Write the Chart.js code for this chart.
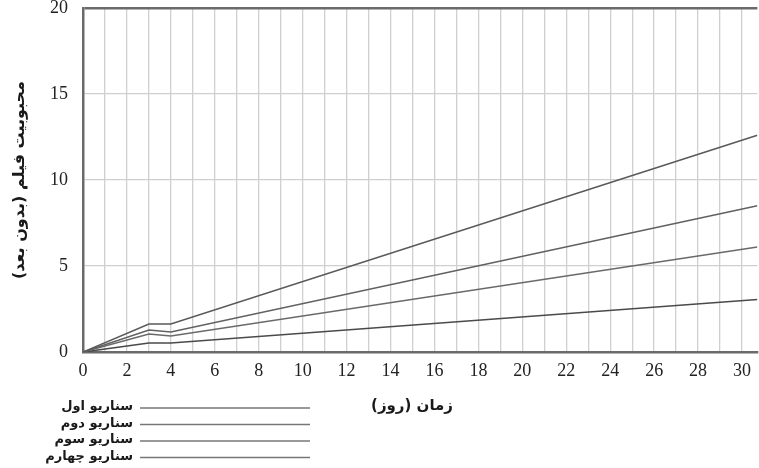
<!DOCTYPE html>
<html>
<head>
<meta charset="utf-8">
<script src="https://cdn.jsdelivr.net/npm/chart.js@4"></script>
<style>
  html, body { margin: 0; padding: 0; background: #fff; }
  #wrap { width: 759px; height: 468px; position: relative; }
</style>
</head>
<body>
<div id="wrap"><canvas id="chart"></canvas></div>
<script>
  const days = [0, 3, 4, 30.7];
  const scenario1 = [0, 1.63, 1.63, 12.6];
  const scenario2 = [0, 1.28, 1.16, 8.5];
  const scenario3 = [0, 1.05, 0.93, 6.1];
  const scenario4 = [0, 0.52, 0.52, 3.05];
  const seriesLabels = ["سناریو اول", "سناریو دوم", "سناریو سوم", "سناریو چهارم"];
  const xTitle = "زمان (روز)";
  const yTitle = "محبوبیت فیلم (بدون بعد)";
  const xMax = 30.7;
  const yTicks = [0, 5, 10, 15, 20];

  const serif = "'Liberation Serif', 'Times New Roman', serif";
  const arabic = "'DejaVu Sans', sans-serif";
  const gridColor = "#cfcfcf";
  const axisColor = "#6a6a6a";
  const lineColors = ["#5a5a5a", "#616161", "#6a6a6a", "#4a4a4a"];

  const toPoints = (ys) => ys.map((y, i) => ({ x: days[i], y }));

  // legend under the plot (bottom left) and the x title, placed like the original
  const extras = {
    id: "extras",
    afterDraw(chart) {
      const ctx = chart.ctx;
      ctx.save();
      ctx.fillStyle = "#1a1a1a";
      ctx.font = "bold 15px " + arabic;
      ctx.textAlign = "center";
      ctx.textBaseline = "middle";
      ctx.fillText(xTitle, 412, 406);

      ctx.font = "bold 13px " + arabic;
      ctx.textAlign = "right";
      chart.data.datasets.forEach((ds, i) => {
        const y = 408 + i * 16.5;
        ctx.fillStyle = "#1a1a1a";
        ctx.fillText(ds.label, 133, y - 1);
        ctx.strokeStyle = "#777";
        ctx.lineWidth = 1.5;
        ctx.beginPath();
        ctx.moveTo(140, y);
        ctx.lineTo(310, y);
        ctx.stroke();
      });
      ctx.restore();
    },
  };

  const mk = (label, ys, color) => ({
    label,
    data: toPoints(ys),
    borderColor: color,
    borderWidth: 1.6,
    pointRadius: 0,
    tension: 0,
    fill: false,
  });

  new Chart(document.getElementById("chart"), {
    type: "line",
    data: {
      datasets: [
        mk(seriesLabels[0], scenario1, lineColors[0]),
        mk(seriesLabels[1], scenario2, lineColors[1]),
        mk(seriesLabels[2], scenario3, lineColors[2]),
        mk(seriesLabels[3], scenario4, lineColors[3]),
      ],
    },
    options: {
      responsive: true,
      maintainAspectRatio: false,
      animation: false,
      layout: { padding: { left: 0, right: 0, top: 8, bottom: 0 } },
      plugins: { legend: { display: false }, tooltip: { enabled: false } },
      scales: {
        x: {
          type: "linear",
          min: 0,
          max: xMax,
          afterFit(scale) { scale.height = 116; },
          grid: {
            color: (c) => (c.tick && c.tick.value === 0 ? axisColor : gridColor),
            lineWidth: 1.3,
            drawTicks: false,
          },
          border: { color: axisColor, width: 2.5 },
          ticks: {
            stepSize: 1,
            autoSkip: false,
            includeBounds: false,
            maxRotation: 0,
            padding: 8,
            color: "#222",
            font: { family: serif, size: 18 },
            callback: (v) => (v % 2 === 0 ? String(v) : ""),
          },
        },
        y: {
          min: 0,
          max: 20,
          afterFit(scale) {
            scale.width = 83;
            scale.paddingTop = 0;
            scale.paddingBottom = 0;
          },
          afterBuildTicks(scale) { scale.ticks = yTicks.map((v) => ({ value: v })); },
          grid: {
            color: (c) => (c.tick && c.tick.value === 20 ? axisColor : gridColor),
            lineWidth: (c) => (c.tick && c.tick.value === 20 ? 2.5 : 1.3),
            drawTicks: false,
          },
          border: { color: axisColor, width: 2.5 },
          ticks: {
            align: "inner",
            padding: 15,
            color: "#222",
            font: { family: serif, size: 18 },
          },
          title: {
            display: true,
            text: yTitle,
            color: "#1a1a1a",
            font: { family: arabic, size: 16, weight: "bold" },
            padding: { top: 10, bottom: 0 },
          },
        },
      },
    },
    plugins: [extras],
  });
</script>
</body>
</html>
